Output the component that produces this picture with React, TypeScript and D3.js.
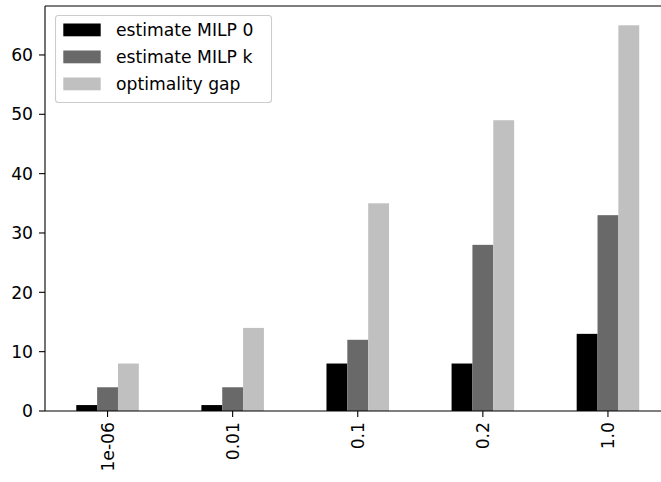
import React from "react";
import * as d3 from "d3";

const categories = ["1e-06", "0.01", "0.1", "0.2", "1.0"];
const seriesNames = ["estimate MILP 0", "estimate MILP k", "optimality gap"];
const milp0 = [1, 1, 8, 8, 13];
const milpK = [4, 4, 12, 28, 33];
const gap = [8, 14, 35, 49, 65];
const yTicks = [0, 10, 20, 30, 40, 50, 60];
const colors = ["#000000", "#696969", "#c0c0c0"];

const W = 661;
const H = 482;
const left = 45;
const right = 670.5;
const top = 6;
const bottom = 411;
const FS = 17.2;
const font = "DejaVu Sans, sans-serif";

export default function App() {
  const series = [milp0, milpK, gap];
  const x = d3.scaleLinear().domain([-0.5, categories.length - 0.5]).range([left, right]);
  const yMax = d3.max(gap)! * 1.05;
  const y = d3.scaleLinear().domain([0, yMax]).range([bottom, top]);
  const bw = 0.5 / series.length;

  return (
    <svg width={W} height={H} style={{ position: "absolute", left: 0, top: 0 }} fontFamily={font}>
      <rect x={0} y={0} width={W} height={H} fill="#fff" />
      {series.map((vals, s) =>
        vals.map((v, i) => {
          const x0 = x(i - 0.25 + s * bw);
          const x1 = x(i - 0.25 + (s + 1) * bw);
          return (
            <rect key={`${s}-${i}`} x={x0} y={y(v)} width={x1 - x0} height={y(0) - y(v)} fill={colors[s]} />
          );
        })
      )}
      {/* spines */}
      <line x1={left} x2={left} y1={top} y2={bottom} stroke="#000" strokeWidth={1.1} />
      <line x1={left} x2={W} y1={bottom} y2={bottom} stroke="#000" strokeWidth={1.1} />
      <line x1={left} x2={W} y1={top} y2={top} stroke="#000" strokeWidth={1.1} />
      {/* y ticks */}
      {yTicks.map((t) => (
        <g key={t}>
          <line x1={left - 6} x2={left} y1={y(t)} y2={y(t)} stroke="#000" strokeWidth={1.1} />
          <text x={left - 12} y={y(t)} dy="0.36em" textAnchor="end" fontSize={FS} fill="#000">
            {t}
          </text>
        </g>
      ))}
      {/* x ticks */}
      {categories.map((c, i) => (
        <g key={c}>
          <line x1={x(i)} x2={x(i)} y1={bottom} y2={bottom + 6} stroke="#000" strokeWidth={1.1} />
          <text
            transform={`translate(${x(i)},${bottom + 11}) rotate(-90)`}
            textAnchor="end"
            dy="0.36em"
            fontSize={FS}
            fill="#000"
          >
            {c}
          </text>
        </g>
      ))}
      {/* legend */}
      <rect x={55.5} y={15.5} width={216} height={87} rx={3} fill="#fff" fillOpacity={0.8} stroke="#cccccc" strokeWidth={1.1} />
      {seriesNames.map((n, s) => (
        <g key={n}>
          <rect x={63.3} y={23.5 + s * 27} width={37.4} height={12.8} fill={colors[s]} />
          <text x={116} y={30 + s * 27} dy="0.36em" fontSize={FS} fill="#000">
            {n}
          </text>
        </g>
      ))}
    </svg>
  );
}
